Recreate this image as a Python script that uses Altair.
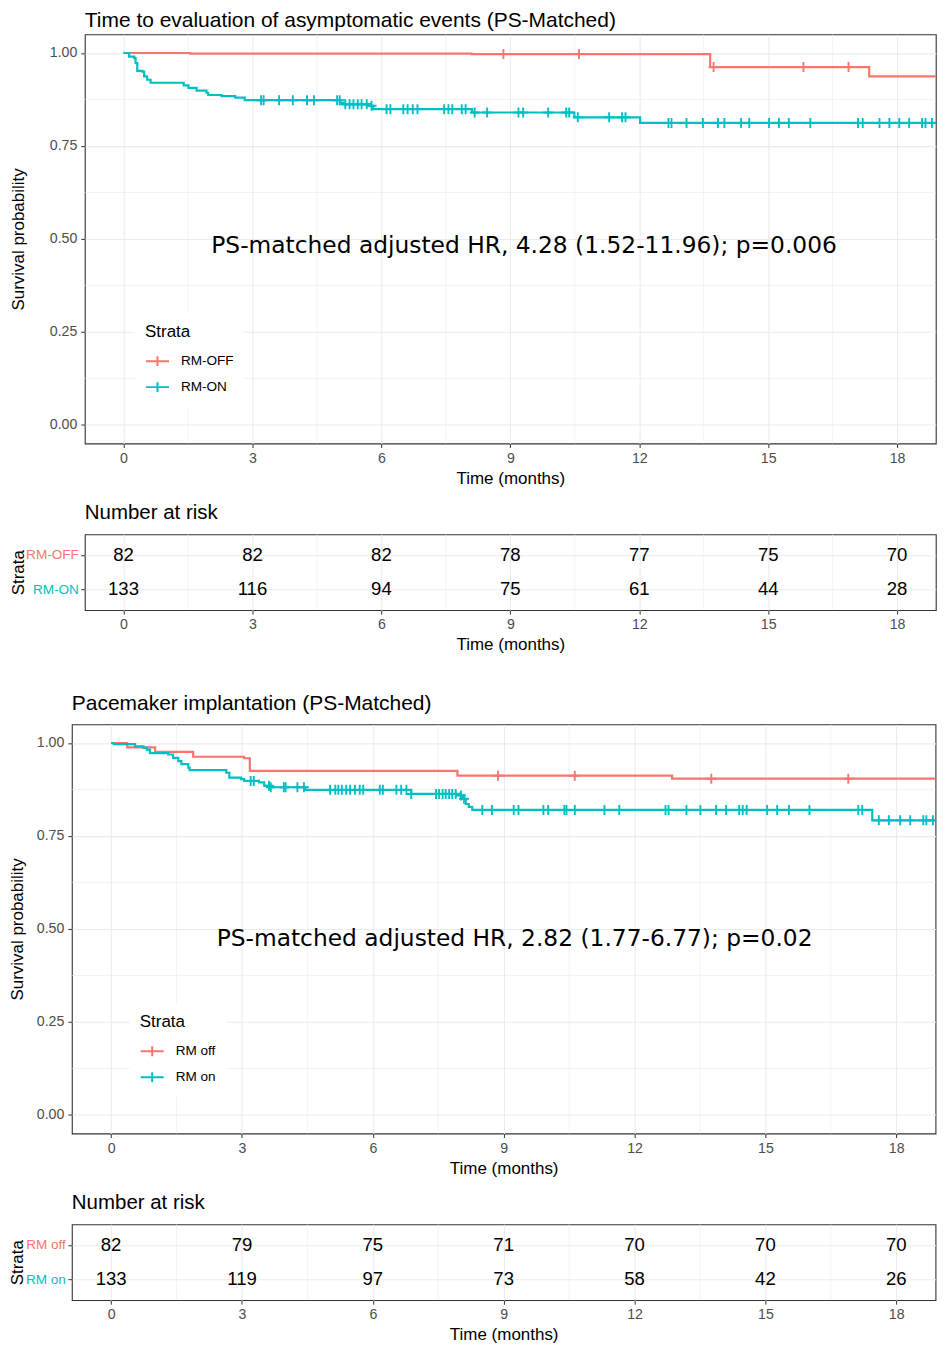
import altair as alt
import pandas as pd

RED, TEAL = "#F8766D", "#00BFC4"
FONT = "Liberation Sans"
ANN_FONT = "DejaVu Sans"
PLUS = "M-1,0H1M0,-1V1"
LEG_SYM = "M-1,0H1M0,-0.43V0.43"

x_ticks = [0, 3, 6, 9, 12, 15, 18]
x_minor = [1.5, 4.5, 7.5, 10.5, 13.5, 16.5]
y_ticks = [0.0, 0.25, 0.5, 0.75, 1.0]
y_minor = [0.125, 0.375, 0.625, 0.875]

# ---------------- Panel A : asymptomatic events ----------------
a_title = "Time to evaluation of asymptomatic events (PS-Matched)"
a_strata = ["RM-OFF", "RM-ON"]
a_off_t = [0, 1.55, 8.1, 13.65, 17.35, 19.5]
a_off_s = [1.0, 0.9985, 0.997, 0.962, 0.937, 0.937]
a_off_cens = [8.84, 10.6, 13.73, 15.82, 16.87]
a_on_t = [0, 0.13, 0.25, 0.28, 0.32, 0.44, 0.48, 0.55, 0.63, 1.40, 1.51, 1.70,
          1.93, 1.97, 2.28, 2.60, 2.82, 5.04, 5.12, 5.73, 5.81, 8.11, 10.49,
          12.02, 19.5]
a_on_s = [1.0, 0.990, 0.986, 0.973, 0.952, 0.950, 0.937, 0.928, 0.920, 0.913,
          0.906, 0.899, 0.893, 0.887, 0.884, 0.880, 0.873, 0.866, 0.862, 0.858,
          0.849, 0.840, 0.827, 0.812, 0.812]
a_on_cens = [3.20, 3.26, 3.62, 3.94, 4.27, 4.43, 4.97, 5.03, 5.16, 5.26, 5.35,
             5.45, 5.54, 5.66, 5.77, 6.12, 6.21, 6.51, 6.61, 6.73, 6.84, 7.46,
             7.56, 7.65, 7.87, 7.96, 8.17, 8.46, 9.19, 9.30, 9.88, 10.30, 10.37,
             10.57, 11.30, 11.60, 11.68, 12.68, 12.75, 13.10, 13.48, 13.83,
             13.98, 14.37, 14.56, 15.02, 15.25, 15.48, 15.98, 17.09, 17.20,
             17.59, 17.82, 18.05, 18.28, 18.58, 18.66, 18.81]
a_hr = "PS-matched adjusted HR, 4.28 (1.52-11.96); p=0.006"
a_risk_off = [82, 82, 82, 78, 77, 75, 70]
a_risk_on = [133, 116, 94, 75, 61, 44, 28]

# ---------------- Panel B : pacemaker implantation ----------------
b_title = "Pacemaker implantation (PS-Matched)"
b_strata = ["RM off", "RM on"]
b_off_t = [0, 0.37, 1.01, 1.88, 3.05, 3.18, 7.94, 12.86, 19.5]
b_off_s = [1.0, 0.988, 0.976, 0.963, 0.959, 0.925, 0.912, 0.904, 0.904]
b_off_cens = [8.87, 10.63, 13.76, 16.9]
b_on_t = [0, 0.06, 0.55, 0.74, 0.82, 0.89, 1.31, 1.42, 1.54, 1.61, 1.77, 1.80,
          2.64, 2.71, 2.98, 3.05, 3.39, 3.51, 3.66, 4.45, 6.88, 7.98, 8.05,
          8.13, 8.20, 8.28, 17.45, 19.5]
b_on_s = [1.0, 0.997, 0.991, 0.987, 0.982, 0.973, 0.969, 0.960, 0.951, 0.943,
          0.934, 0.927, 0.920, 0.907, 0.903, 0.898, 0.894, 0.885, 0.881, 0.874,
          0.863, 0.859, 0.850, 0.836, 0.828, 0.820, 0.792, 0.792]
b_on_cens = [3.20, 3.27, 3.62, 3.66, 3.96, 4.00, 4.27, 4.42, 5.02, 5.14, 5.21,
             5.29, 5.39, 5.48, 5.59, 5.70, 5.78, 6.16, 6.23, 6.54, 6.65, 6.77,
             6.88, 7.45, 7.52, 7.60, 7.67, 7.75, 7.82, 7.90, 8.02, 8.09, 8.51,
             8.73, 9.23, 9.34, 9.91, 10.02, 10.39, 10.44, 10.63, 11.31, 11.65,
             12.71, 12.78, 13.19, 13.51, 13.87, 14.10, 14.40, 14.48, 14.57,
             15.04, 15.27, 15.54, 16.01, 17.13, 17.22, 17.60, 17.83, 18.09,
             18.32, 18.62, 18.69, 18.84]
b_hr = "PS-matched adjusted HR, 2.82 (1.77-6.77); p=0.02"
b_risk_off = [82, 79, 75, 71, 70, 70, 70]
b_risk_on = [133, 119, 97, 73, 58, 42, 26]

KM_H = 410
RT_H = 76
W_A = 852.8
W_B = 865.5
TX_A = -57.7
TX_B = -45


def surv_at(ts, ss, t):
    v = ss[0]
    for ti, si in zip(ts, ss):
        if ti <= t:
            v = si
    return v


def xscale():
    return alt.Scale(domain=[-0.9, 18.9], nice=False, zero=False)


def yscale():
    return alt.Scale(domain=[-0.05, 1.05], nice=False, zero=False)


def x_axis():
    return alt.Axis(values=x_ticks, title="Time (months)", grid=True, format="d",
                    tickSize=4, labelPadding=3.6, titlePadding=5)


def y_axis(tx):
    return alt.Axis(values=y_ticks, format=".2f", title="Survival probability",
                    titleX=tx, titleY=KM_H / 2, grid=True, tickSize=4, labelPadding=4)


def minor_x():
    return alt.Chart(pd.DataFrame({"m": x_minor})).mark_rule(
        color="#EBEBEB", strokeWidth=0.6).encode(x=alt.X("m:Q", scale=xscale(), axis=x_axis()))


def title_params(text, size, offset):
    return alt.TitleParams(text=text, anchor="start", frame="group", font=FONT,
                           fontSize=size, fontWeight="normal", color="black", offset=offset)


def km_panel(title, strata, off_t, off_s, off_c, on_t, on_s, on_c, hr, hr_x, hr_y,
             width, tx, leg_x, leg_y, t_off):
    curve = pd.DataFrame({
        "time": off_t + on_t,
        "surv": off_s + on_s,
        "strata": [strata[0]] * len(off_t) + [strata[1]] * len(on_t),
    })
    cens = pd.DataFrame({
        "time": off_c + on_c,
        "surv": [surv_at(off_t, off_s, t) for t in off_c] + [surv_at(on_t, on_s, t) for t in on_c],
        "strata": [strata[0]] * len(off_c) + [strata[1]] * len(on_c),
    })
    cscale = alt.Scale(domain=strata, range=[RED, TEAL])

    gy = alt.Chart(pd.DataFrame({"m": y_minor})).mark_rule(
        color="#EBEBEB", strokeWidth=0.6).encode(y=alt.Y("m:Q", scale=yscale(), axis=y_axis(tx)))

    lines = alt.Chart(curve).mark_line(interpolate="step-after", strokeWidth=2.2, clip=True).encode(
        x=alt.X("time:Q", scale=xscale(), axis=x_axis()),
        y=alt.Y("surv:Q", scale=yscale(), axis=y_axis(tx)),
        color=alt.Color("strata:N", scale=cscale, legend=alt.Legend(
            title="Strata", orient="none", legendX=leg_x, legendY=leg_y,
            fillColor="white", padding=10, titleFont=FONT, titleFontSize=17,
            titleFontWeight="normal", titleColor="black", titlePadding=8,
            labelFont=FONT, labelFontSize=13.6, labelColor="black", labelOffset=11,
            symbolType=LEG_SYM, symbolSize=529, symbolStrokeWidth=2, rowPadding=4)),
    )
    pts = alt.Chart(cens).mark_point(shape=PLUS, filled=False, size=100, strokeWidth=1.9,
                                     opacity=1, clip=True).encode(
        x=alt.X("time:Q", scale=xscale(), axis=x_axis()),
        y=alt.Y("surv:Q", scale=yscale(), axis=y_axis(tx)),
        color=alt.Color("strata:N", scale=cscale, legend=None),
    )
    ann = alt.Chart(pd.DataFrame({"label": [hr]})).mark_text(
        font=ANN_FONT, fontSize=23.4, color="black").encode(
        x=alt.X(datum=hr_x, type="quantitative", scale=xscale(), axis=x_axis()),
        y=alt.Y(datum=hr_y, type="quantitative", scale=yscale(), axis=y_axis(tx)),
        text="label:N")
    return alt.layer(minor_x(), gy, lines, pts, ann).properties(
        width=width, height=KM_H, title=title_params(title, 21, t_off))


def risk_panel(strata, off, on, width, tx, t_off):
    df = pd.DataFrame({
        "time": x_ticks + x_ticks,
        "strata": [strata[0]] * len(x_ticks) + [strata[1]] * len(x_ticks),
        "n": off + on,
    })
    txt = alt.Chart(df).mark_text(font=FONT, fontSize=18.6, color="black").encode(
        x=alt.X("time:Q", scale=xscale(), axis=x_axis()),
        y=alt.Y("strata:N", sort=strata,
                scale=alt.Scale(type="point", domain=strata, padding=0.6),
                axis=alt.Axis(title="Strata", titleX=tx, titleY=RT_H / 2, grid=True,
                              tickSize=4, labelPadding=2.5, labelFontSize=13.6,
                              labelColor={"condition": {"test": f"datum.value == '{strata[0]}'",
                                                        "value": RED},
                                          "value": TEAL})),
        text="n:Q",
    )
    return alt.layer(minor_x(), txt).properties(
        width=width, height=RT_H, title=title_params("Number at risk", 20.5, t_off))


P1 = km_panel(a_title, a_strata, a_off_t, a_off_s, a_off_cens, a_on_t, a_on_s, a_on_cens,
              a_hr, 9.32, 0.482, W_A, TX_A, 50.3, 280, 3)
T1 = risk_panel(a_strata, a_risk_off, a_risk_on, W_A, TX_A, 11)
P2 = km_panel(b_title, b_strata, b_off_t, b_off_s, b_off_cens, b_on_t, b_on_s, b_on_cens,
              b_hr, 9.25, 0.474, W_B, TX_B, 58, 280, 10)
T2 = risk_panel(b_strata, b_risk_off, b_risk_on, W_B, TX_B, 11)

IND = dict(x="independent", y="independent", color="independent")

stack1 = alt.concat(P1, T1, columns=1, align="none", spacing=14).resolve_scale(**IND)
spacer = alt.Chart(pd.DataFrame({"a": [0]})).mark_point(opacity=0).properties(
    width=12.7, height=1, view=alt.ViewBackground(strokeWidth=0, strokeOpacity=0))
G1 = alt.hconcat(spacer, stack1, spacing=0, bounds="flush").resolve_scale(**IND)
G2 = alt.concat(P2, T2, columns=1, align="none", spacing=14).resolve_scale(**IND)

chart = alt.concat(G1, G2, columns=1, align="none", spacing=38.5).resolve_scale(
    **IND).resolve_legend(color="independent").properties(
    padding={"left": 0, "top": 0, "right": 0, "bottom": 0}, background="white"
).configure_view(stroke="#333333", strokeWidth=1.1).configure_axis(
    labelFont=FONT, labelFontSize=14.2, labelColor="#4D4D4D", tickColor="#333333",
    tickWidth=1, domain=False, gridColor="#EBEBEB", gridWidth=1.1, titleFont=FONT,
    titleFontSize=17, titleFontWeight="normal", titleColor="black")

chart.save("out.html", embed_options={"renderer": "svg", "actions": False})
